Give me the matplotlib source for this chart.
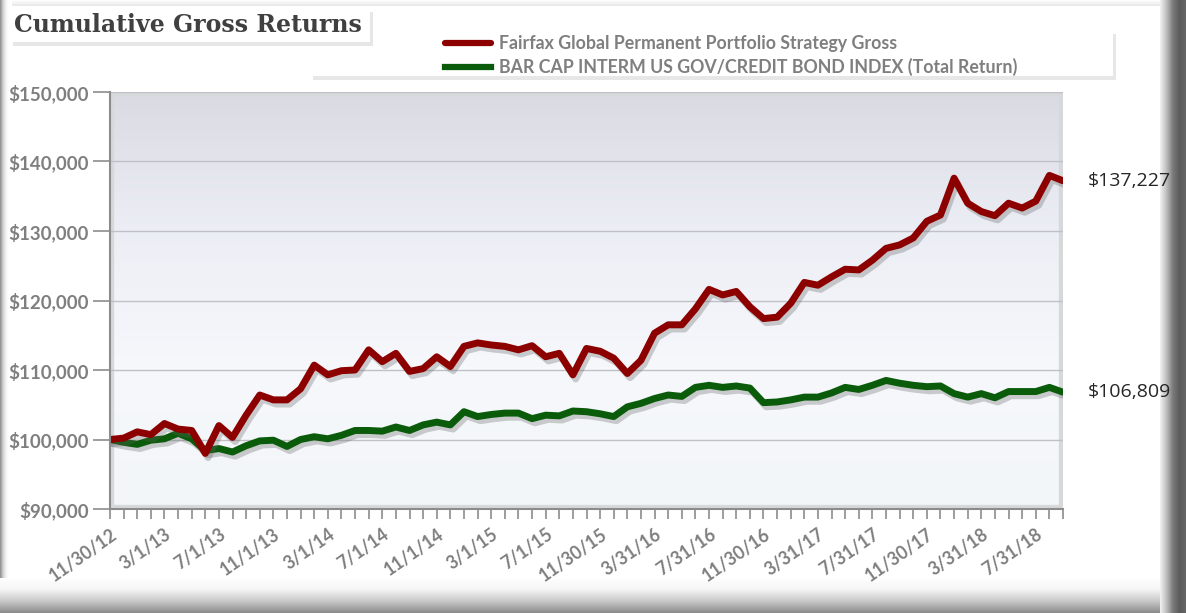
import numpy as np
import matplotlib.pyplot as plt
import matplotlib.patheffects as pe
from matplotlib.patches import Rectangle
from matplotlib.lines import Line2D
from matplotlib.ticker import FuncFormatter
from matplotlib.colors import LinearSegmentedColormap

# monthly values
fairfax = [100000, 100200, 101100, 100700, 102300, 101500, 101300, 98000, 102000, 100300,
           103500, 106400, 105700, 105700, 107300, 110700, 109300, 109900, 110000, 112900,
           111200, 112400, 109800, 110200, 111900, 110500, 113400, 113900, 113600, 113400,
           112900, 113500, 111900, 112400, 109300, 113100, 112700, 111700, 109500, 111400,
           115300, 116500, 116500, 118800, 121600, 120800, 121300, 119100, 117400, 117600,
           119600, 122600, 122200, 123400, 124500, 124400, 125800, 127500, 128000, 129000,
           131400, 132300, 137600, 134000, 132800, 132200, 134000, 133300, 134300, 138000, 137227]
barcap = [100000, 99600, 99300, 99900, 100100, 100900, 100100, 98400, 98700, 98200,
          99100, 99800, 99900, 99000, 100000, 100400, 100100, 100600, 101300, 101300,
          101200, 101800, 101300, 102100, 102500, 102100, 104000, 103300, 103600, 103800,
          103800, 103000, 103500, 103400, 104100, 104000, 103700, 103300, 104700, 105200,
          105900, 106400, 106200, 107500, 107800, 107500, 107700, 107400, 105300, 105400,
          105700, 106100, 106100, 106700, 107500, 107200, 107800, 108500, 108100, 107800,
          107600, 107700, 106600, 106100, 106600, 106000, 106900, 106900, 106900, 107500, 106809]
date_labels = ['11/30/12', '3/1/13', '7/1/13', '11/1/13', '3/1/14', '7/1/14', '11/1/14',
               '3/1/15', '7/1/15', '11/30/15', '3/31/16', '7/31/16', '11/30/16', '3/31/17',
               '7/31/17', '11/30/17', '3/31/18', '7/31/18']
names = ['Fairfax Global Permanent Portfolio Strategy Gross',
         'BAR CAP INTERM US GOV/CREDIT BOND INDEX (Total Return)']
red = '#8c0000'
green = '#0a5c0a'
gray_txt = '#7f7f7f'

W, H = 1186, 613
fig = plt.figure(figsize=(W / 100, H / 100), dpi=100)
fig.patch.set_facecolor('white')

def fbox(x0, y0, x1, y1):
    # pixel box (top-left origin) -> figure fraction rect
    return (x0 / W, 1 - y1 / H), (x1 - x0) / W, (y1 - y0) / H

# frame with bevel edges
bg = fig.add_axes([0, 0, 1, 1], zorder=-10)
bg.set_axis_off()
ramp = np.linspace(0, 1, 100)
bottom_cm = LinearSegmentedColormap.from_list('b', ['#ffffff', '#f4f4f4', '#c8c8c8', '#8a8a8a'])
right_cm = LinearSegmentedColormap.from_list('r', ['#f2f2f2', '#bdbdbd', '#7a7a7a', '#5c5c5c', '#666666'])
left_cm = LinearSegmentedColormap.from_list('l', ['#8a8a8a', '#d0d0d0', '#f4f4f4', '#ffffff', '#ffffff'])
top_cm = LinearSegmentedColormap.from_list('t', ['#e8e8e8', '#ffffff'])
bg.imshow(ramp.reshape(-1, 1), extent=(0, 1160, H, 578), cmap=bottom_cm, aspect='auto')
bg.imshow(ramp.reshape(1, -1), extent=(1160, W, H, 0), cmap=right_cm, aspect='auto')
bg.imshow(ramp.reshape(1, -1), extent=(0, 12, 578, 0), cmap=left_cm, aspect='auto')
bg.imshow(ramp.reshape(-1, 1)[::-1], extent=(12, 1160, 6, 0), cmap=top_cm, aspect='auto')
bg.set_xlim(0, W)
bg.set_ylim(H, 0)

ax = fig.add_axes([110 / W, 1 - 509 / H, 953 / W, 417 / H])
x = np.arange(len(fairfax))

# plot area gradient
pa_cm = LinearSegmentedColormap.from_list('pa', ['#dadae3', '#eceef5', '#f6f8fc', '#f3f6f8'])
ax.imshow(ramp.reshape(-1, 1), extent=(0, 1, 0, 1), transform=ax.transAxes,
          cmap=pa_cm, aspect='auto', zorder=0)
ax.add_patch(Rectangle((0, 0), 1, 1, transform=ax.transAxes, fill=False,
                       ec='#d6d8da', lw=6, zorder=1))

shadow = [pe.SimpleLineShadow(offset=(2, -3), shadow_color='#606060', alpha=0.3),
          pe.Normal()]
ax.plot(x, fairfax, color=red, lw=5, solid_joinstyle='round', solid_capstyle='round',
        path_effects=shadow, zorder=4)
ax.plot(x, barcap, color=green, lw=5, solid_joinstyle='round', solid_capstyle='round',
        path_effects=shadow, zorder=3)

ax.set_xlim(0, len(fairfax) - 1)
ax.set_ylim(90000, 150000)
ax.set_yticks(np.arange(90000, 150001, 10000))
ax.yaxis.set_major_formatter(FuncFormatter(lambda v, p: '${:,.0f}'.format(v)))
ax.grid(axis='y', color='#c0c0c8', lw=1)
ax.set_axisbelow(False)
for gl in ax.get_ygridlines():
    gl.set_zorder(2)

ax.set_xticks(np.arange(0, len(date_labels) * 4, 4))
ax.set_xticklabels(date_labels)
ax.set_xticks(x, minor=True)
ax.tick_params(axis='x', which='both', direction='out', length=7, width=1.2, color='#8c8c8c')
ax.tick_params(axis='x', which='major', pad=5)
ax.tick_params(axis='y', direction='out', length=12, width=1.2, color='#8c8c8c', pad=3)
for lab in ax.get_xticklabels():
    lab.set_rotation(35)
    lab.set_ha('right')
    lab.set_rotation_mode('anchor')
    lab.set_fontsize(12.8)
for lab in ax.get_yticklabels():
    lab.set_fontsize(13.5)
for lab in ax.get_xticklabels() + ax.get_yticklabels():
    lab.set_fontfamily('Lato')
    lab.set_fontweight('bold')
    lab.set_color(gray_txt)
for s in ['top', 'right']:
    ax.spines[s].set_visible(False)
for s in ['left', 'bottom']:
    ax.spines[s].set_color('#8c8c8c')
    ax.spines[s].set_linewidth(1.5)
    ax.spines[s].set_zorder(5)

# end values
for series in [fairfax, barcap]:
    ax.annotate('${:,.0f}'.format(series[-1]), xy=(x[-1], series[-1]), xytext=(18, 0),
                textcoords='offset points', va='center', ha='left', fontsize=14,
                family='Open Sans', color='#262626', annotation_clip=False)

# legend box
soft = [pe.withSimplePatchShadow(offset=(2, -3), shadow_rgbFace='#a0a0a0', alpha=0.25)]
lxy, lw_, lh = fbox(310, 30, 1113, 76)
fig.add_artist(Rectangle(lxy, lw_, lh, transform=fig.transFigure, fc='white', ec='none',
                         zorder=5, path_effects=soft))
handles = [Line2D([], [], color=red, lw=4.5, solid_capstyle='round'),
           Line2D([], [], color=green, lw=4.5)]
leg = fig.legend(handles, names, loc='upper left', bbox_to_anchor=(438 / W, 1 - 28 / H),
                 frameon=False, handlelength=2.6, handletextpad=0.45,
                 labelspacing=0.35, borderaxespad=0, labelcolor=gray_txt,
                 prop={'family': 'Lato', 'weight': 'bold', 'size': 12.8})
leg.set_zorder(6)

# title box
txy, tw, th = fbox(10, 8, 370, 42)
fig.add_artist(Rectangle(txy, tw, th, transform=fig.transFigure, fc='white', ec='none',
                         zorder=7, path_effects=soft))
fig.text(14 / W, 1 - 25 / H, 'Cumulative Gross Returns', fontsize=17, fontweight='bold',
         family='DejaVu Serif', color='#404040', va='center', ha='left', zorder=8)

fig.savefig('out.png', dpi=100)
